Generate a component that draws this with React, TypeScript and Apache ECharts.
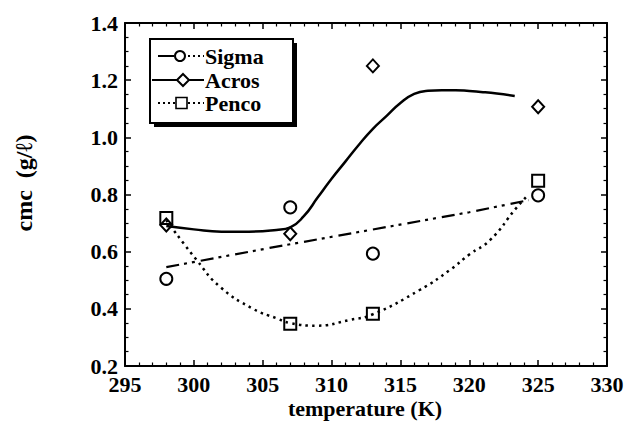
import React, { useEffect, useRef } from "react";
import * as echarts from "echarts";

// measured points
const temps = [298, 307, 313, 325];
const sigmaCmc = [0.505, 0.755, 0.593, 0.797];
const acrosCmc = [0.693, 0.663, 1.25, 1.107];
const pencoCmc = [0.718, 0.348, 0.383, 0.848];

// fitted curves
const acrosFitT = [298, 300, 302, 304, 306, 307, 308, 309, 310, 311, 312, 313, 314, 315, 316, 317, 318, 319, 320, 321, 322, 323.3];
const acrosFitC = [0.69, 0.678, 0.67, 0.67, 0.676, 0.685, 0.725, 0.79, 0.855, 0.915, 0.975, 1.03, 1.075, 1.12, 1.152, 1.163, 1.165, 1.165, 1.162, 1.158, 1.153, 1.145];
const sigmaFitT = [298, 305.5, 320, 324.3];
const sigmaFitC = [0.546, 0.613, 0.738, 0.78];
const pencoFitT = [298, 300.2, 301.9, 304.3, 306, 307, 308.9, 311.3, 313, 316.4, 318.6, 320, 321.5, 323.4, 324.2];
const pencoFitC = [0.71, 0.571, 0.477, 0.4, 0.367, 0.35, 0.341, 0.361, 0.381, 0.466, 0.536, 0.59, 0.64, 0.752, 0.795];

const seriesNames = ["Sigma", "Acros", "Penco"];
const xTitle = "temperature (K)";
const yTitle = "cmc  (g/\u2113)";

const FONT = "'Liberation Serif', 'Times New Roman', serif";

const pairs = (xs: number[], ys: number[]) => xs.map((x, i) => [x, ys[i]]);

export default function App() {
  const ref = useRef<HTMLDivElement>(null);
  useEffect(() => {
    if (!ref.current) return;
    const chart = echarts.init(ref.current, null, { renderer: "svg" });
    const axisCommon = {
      axisLine: { show: true, onZero: false, lineStyle: { color: "#000", width: 2 } },
      axisTick: { show: true, inside: true, length: 6, lineStyle: { color: "#000", width: 1.5 } },
      minorTick: { show: true, length: 3.5, lineStyle: { color: "#000", width: 1.2 } },
      splitLine: { show: false },
    };
    const labelStyle = { color: "#000", fontFamily: FONT, fontWeight: "bold", fontSize: 22 };
    const markerStyle = { color: "rgba(0,0,0,0)", borderColor: "#000", borderWidth: 2, opacity: 1 };
    const legendX = 150, legendY = 39, legendW = 143, legendH = 84;
    const rows = [56, 80, 103];
    const legendFont = `bold 22px ${FONT}`;
    chart.setOption({
      animation: false,
      backgroundColor: "#fff",
      grid: { left: 125, right: 23, top: 23, bottom: 59, containLabel: false },
      xAxis: [
        {
          type: "value", min: 295, max: 330, interval: 5, position: "bottom",
          ...axisCommon,
          minorTick: { ...axisCommon.minorTick, splitNumber: 5 },
          axisLabel: { ...labelStyle, margin: 7, formatter: (v: number) => String(v) },
        },
        {
          type: "value", min: 295, max: 330, interval: 5, position: "top",
          ...axisCommon,
          minorTick: { ...axisCommon.minorTick, splitNumber: 5 },
          axisLabel: { show: false },
        },
      ],
      yAxis: [
        {
          type: "value", min: 0.2, max: 1.4, interval: 0.2, position: "left",
          ...axisCommon,
          minorTick: { ...axisCommon.minorTick, splitNumber: 4 },
          axisLabel: { ...labelStyle, margin: 7, formatter: (v: number) => v.toFixed(1) },
        },
        {
          type: "value", min: 0.2, max: 1.4, interval: 0.2, position: "right",
          ...axisCommon,
          minorTick: { ...axisCommon.minorTick, splitNumber: 4 },
          axisLabel: { show: false },
        },
      ],
      series: [
        {
          name: "Acros fit", type: "line", data: pairs(acrosFitT, acrosFitC), smooth: 0.5,
          showSymbol: false, lineStyle: { color: "#000", width: 2.5, type: "solid" }, z: 2,
        },
        {
          name: "Sigma fit", type: "line", data: pairs(sigmaFitT, sigmaFitC), smooth: false,
          showSymbol: false, lineStyle: { color: "#000", width: 2.2, type: [13, 5, 3, 5, 3, 6] }, z: 2,
        },
        {
          name: "Penco fit", type: "line", data: pairs(pencoFitT, pencoFitC), smooth: 0.5,
          showSymbol: false, lineStyle: { color: "#000", width: 2.5, type: [2.5, 4.2] }, z: 2,
        },
        {
          name: seriesNames[0], type: "scatter", data: pairs(temps, sigmaCmc), symbol: "circle", symbolSize: 12,
          itemStyle: markerStyle, z: 3,
        },
        {
          name: seriesNames[1], type: "scatter", data: pairs(temps, acrosCmc), symbol: "diamond", symbolSize: [12, 13],
          itemStyle: markerStyle, z: 3,
        },
        {
          name: seriesNames[2], type: "scatter", data: pairs(temps, pencoCmc), symbol: "rect", symbolSize: 12,
          itemStyle: markerStyle, z: 3,
        },
      ],
      graphic: [
        { type: "rect", shape: { x: legendX + 4, y: legendY + 4, width: legendW, height: legendH }, style: { fill: "#000" }, z: 10 },
        { type: "rect", shape: { x: legendX, y: legendY, width: legendW, height: legendH }, style: { fill: "#fff", stroke: "#000", lineWidth: 2 }, z: 11 },
        // Sigma row
        { type: "line", shape: { x1: 158, y1: rows[0], x2: 174, y2: rows[0] }, style: { stroke: "#000", lineWidth: 2 }, z: 12 },
        { type: "circle", shape: { cx: 180, cy: rows[0], r: 5 }, style: { fill: "#fff", stroke: "#000", lineWidth: 2 }, z: 12 },
        { type: "line", shape: { x1: 188, y1: rows[0], x2: 204, y2: rows[0] }, style: { stroke: "#000", lineWidth: 2, lineDash: [2, 3] }, z: 12 },
        { type: "text", x: 205, y: rows[0], style: { text: seriesNames[0], fill: "#000", font: legendFont, textAlign: "left", textVerticalAlign: "middle" }, z: 12 },
        // Acros row
        { type: "line", shape: { x1: 152, y1: rows[1], x2: 204, y2: rows[1] }, style: { stroke: "#000", lineWidth: 2.2 }, z: 12 },
        { type: "polygon", shape: { points: [[183, rows[1] - 6], [189, rows[1]], [183, rows[1] + 6], [177, rows[1]]] }, style: { fill: "#fff", stroke: "#000", lineWidth: 2 }, z: 13 },
        { type: "text", x: 205, y: rows[1], style: { text: seriesNames[1], fill: "#000", font: legendFont, textAlign: "left", textVerticalAlign: "middle" }, z: 12 },
        // Penco row
        { type: "line", shape: { x1: 158, y1: rows[2], x2: 175, y2: rows[2] }, style: { stroke: "#000", lineWidth: 2, lineDash: [2, 3] }, z: 12 },
        { type: "rect", shape: { x: 176, y: rows[2] - 5.5, width: 11, height: 11 }, style: { fill: "#fff", stroke: "#000", lineWidth: 1.6 }, z: 12 },
        { type: "line", shape: { x1: 188, y1: rows[2], x2: 204, y2: rows[2] }, style: { stroke: "#000", lineWidth: 2, lineDash: [2, 3] }, z: 12 },
        { type: "text", x: 205, y: rows[2], style: { text: seriesNames[2], fill: "#000", font: legendFont, textAlign: "left", textVerticalAlign: "middle" }, z: 12 },
        // axis titles
        { type: "text", x: 365, y: 408, style: { text: xTitle, fill: "#000", font: `bold 22px ${FONT}`, textAlign: "center", textVerticalAlign: "middle" }, z: 12 },
        { type: "text", x: 24, y: 183, rotation: Math.PI / 2, style: { text: yTitle, fill: "#000", font: `bold 24px ${FONT}`, textAlign: "center", textVerticalAlign: "middle" }, z: 12 },
      ],
    });
    return () => chart.dispose();
  }, []);
  return <div ref={ref} style={{ width: 630, height: 425, position: "absolute", left: 0, top: 0 }} />;
}
